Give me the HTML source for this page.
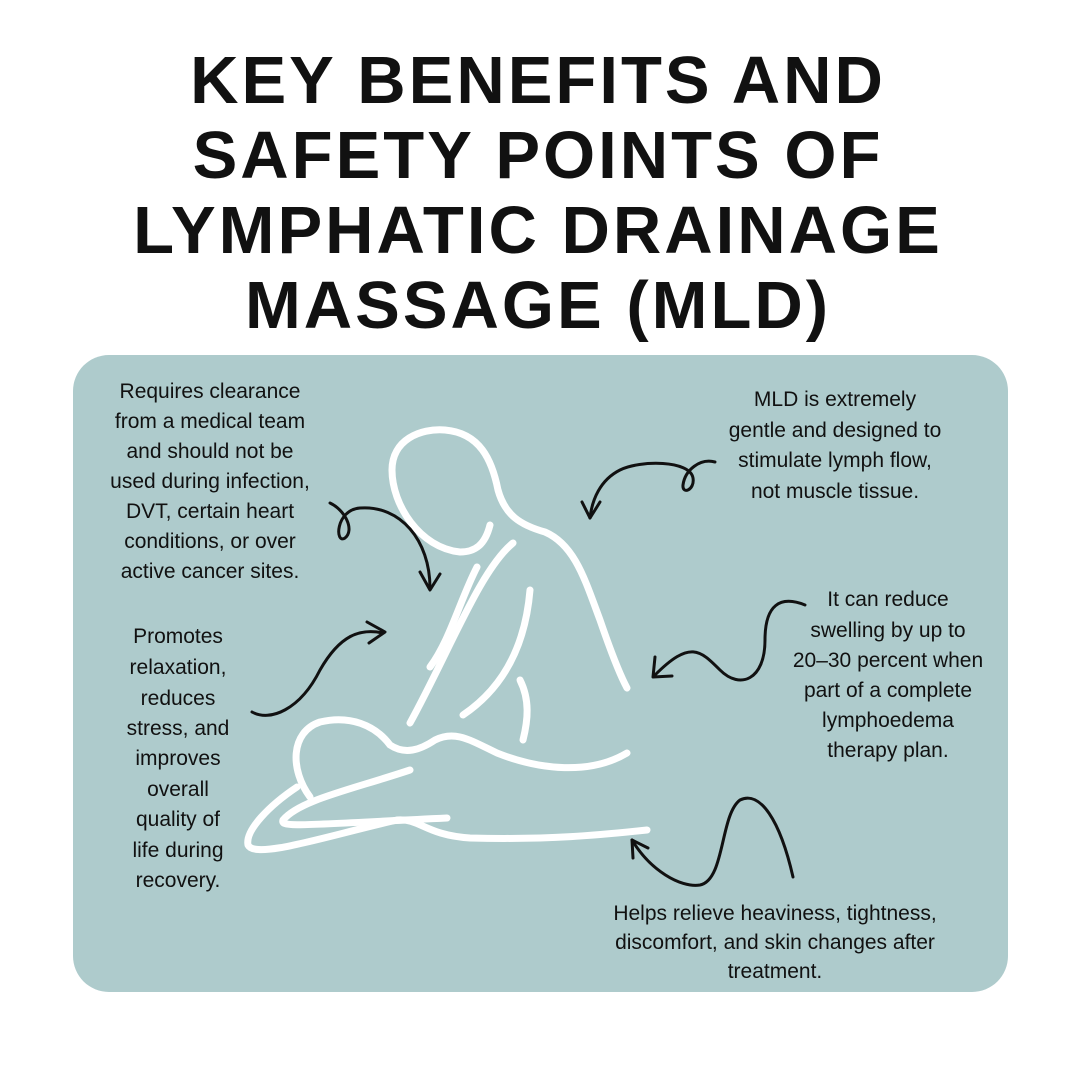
<!DOCTYPE html>
<html><head><meta charset="utf-8"><style>
html,body{margin:0;padding:0;background:#fff;}
svg{display:block}
.t{font-family:"Liberation Sans",sans-serif;font-weight:bold;font-size:67px;fill:#111;text-anchor:middle;letter-spacing:3px}
.b{font-family:"Liberation Sans",sans-serif;font-size:21px;fill:#111;text-anchor:middle}
.w{fill:none;stroke:#fff;stroke-width:7;stroke-linecap:round;stroke-linejoin:round}
.a{fill:none;stroke:#111;stroke-width:3;stroke-linecap:round;stroke-linejoin:round}
</style></head><body>
<svg width="1080" height="1080" viewBox="0 0 1080 1080">
<rect width="1080" height="1080" fill="#fff"/>
<text class="t" x="538" y="103">KEY BENEFITS AND</text>
<text class="t" x="538" y="178">SAFETY POINTS OF</text>
<text class="t" x="538" y="253">LYMPHATIC DRAINAGE</text>
<text class="t" x="538" y="328">MASSAGE (MLD)</text>
<rect x="73" y="355" width="935" height="637" rx="36" fill="#aecbcc"/>
<path class="w" d="M490,525 C485,545 475,552 460,552 C420,548 392,505 392,470 C392,440 420,428 445,430 C480,433 492,460 498,490 C505,515 520,525 545,532 C575,545 585,580 600,620 C612,655 620,675 627,688"/>
<path class="w" stroke-width="5" d="M513,543 C480,570 450,650 410,723"/>
<path class="w" stroke-width="5" d="M477,567 C460,600 450,640 430,667"/>
<path class="w" stroke-width="5" d="M530,590 C525,650 500,690 463,715"/>
<path class="w" stroke-width="5" d="M520,680 C530,700 528,720 523,740"/>
<path class="w" d="M627,753 C590,775 540,770 497,753 C470,740 455,730 435,740 C420,750 405,755 390,745 C375,725 350,715 320,722 C290,732 290,770 310,797"/>
<path class="w" stroke-width="5" d="M410,770 C350,790 300,800 283,820 C280,828 300,825 447,818"/>
<path class="w" d="M297,787 C270,805 245,830 248,845 C255,860 330,835 397,820 C420,818 425,835 470,838 C550,840 600,835 647,830"/>
<path class="a" d="M330,503 C345,510 355,530 345,538 C335,545 335,510 360,508 C400,505 430,540 430,588"/>
<path class="a" d="M420,572 L430,590 L440,574"/>
<path class="a" d="M715,462 C700,458 685,470 683,485 C682,495 695,490 693,478 C690,460 640,460 620,470 C600,480 592,500 590,518"/>
<path class="a" d="M582,502 L590,518 L600,502"/>
<path class="a" d="M252,712 C270,722 300,710 320,670 C340,635 360,628 383,633"/>
<path class="a" d="M367,622 L385,632 L369,643"/>
<path class="a" d="M805,605 C780,595 765,605 765,640 C765,680 740,690 720,670 C700,650 690,640 655,675"/>
<path class="a" d="M655,657 L653,677 L672,676"/>
<path class="a" d="M793,877 C780,820 760,790 740,800 C720,815 725,880 700,885 C680,888 650,870 632,840"/>
<path class="a" d="M633,858 L632,840 L648,848"/>
<g class="b">
<text x="210" y="398">Requires clearance</text>
<text x="210" y="428">from a medical team</text>
<text x="210" y="458">and should not be</text>
<text x="210" y="488">used during infection,</text>
<text x="210" y="518">DVT, certain heart</text>
<text x="210" y="548">conditions, or over</text>
<text x="210" y="578">active cancer sites.</text>
<text x="178" y="643">Promotes</text>
<text x="178" y="674">relaxation,</text>
<text x="178" y="705">reduces</text>
<text x="178" y="735">stress, and</text>
<text x="178" y="765">improves</text>
<text x="178" y="796">overall</text>
<text x="178" y="826">quality of</text>
<text x="178" y="857">life during</text>
<text x="178" y="887">recovery.</text>
<text x="835" y="406">MLD is extremely</text>
<text x="835" y="437">gentle and designed to</text>
<text x="835" y="467">stimulate lymph flow,</text>
<text x="835" y="498">not muscle tissue.</text>
<text x="888" y="606">It can reduce</text>
<text x="888" y="637">swelling by up to</text>
<text x="888" y="667">20–30 percent when</text>
<text x="888" y="697">part of a complete</text>
<text x="888" y="727">lymphoedema</text>
<text x="888" y="757">therapy plan.</text>
<text x="775" y="920">Helps relieve heaviness, tightness,</text>
<text x="775" y="949">discomfort, and skin changes after</text>
<text x="775" y="978">treatment.</text>
</g>
</svg>
</body></html>
